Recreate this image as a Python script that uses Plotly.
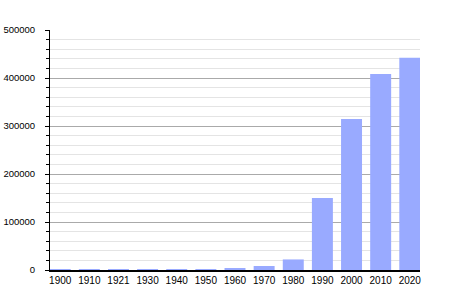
import plotly.graph_objects as go

years = ["1900", "1910", "1921", "1930", "1940", "1950", "1960", "1970", "1980", "1990", "2000", "2010", "2020"]
population = [1200, 1300, 1400, 1300, 1200, 1300, 4000, 8300, 22000, 150000, 314500, 408500, 442000]
y_ticks = [0, 100000, 200000, 300000, 400000, 500000]

fig = go.Figure(go.Bar(
    x=years, y=population,
    marker=dict(color="#99aaff", line=dict(width=0)),
    width=0.72,
))

fig.update_layout(
    width=450, height=300,
    margin=dict(l=50, r=30, t=30, b=30),
    paper_bgcolor="white", plot_bgcolor="white",
    font=dict(family="Liberation Sans, Arial, sans-serif", color="black"),
    showlegend=False,
)
fig.update_xaxes(
    type="category", range=[-0.35, 12.35], automargin=False,
    showline=True, linecolor="black", linewidth=1.5,
    ticks="", showgrid=False, tickfont=dict(size=10),
)
fig.update_yaxes(
    range=[0, 500000], tickvals=y_ticks, ticktext=[str(v) for v in y_ticks],
    automargin=False,
    showline=True, linecolor="black", linewidth=1,
    ticks="outside", ticklen=4, tickcolor="black", tickwidth=1,
    ticklabelstandoff=8,
    showgrid=True, gridcolor="#aaaaaa", gridwidth=1,
    zeroline=False, tickfont=dict(size=9.5),
    minor=dict(dtick=20000, showgrid=True, gridcolor="#e4e4e4", gridwidth=1,
               ticks="outside", ticklen=3, tickcolor="black"),
)

fig.write_html("out.html")
